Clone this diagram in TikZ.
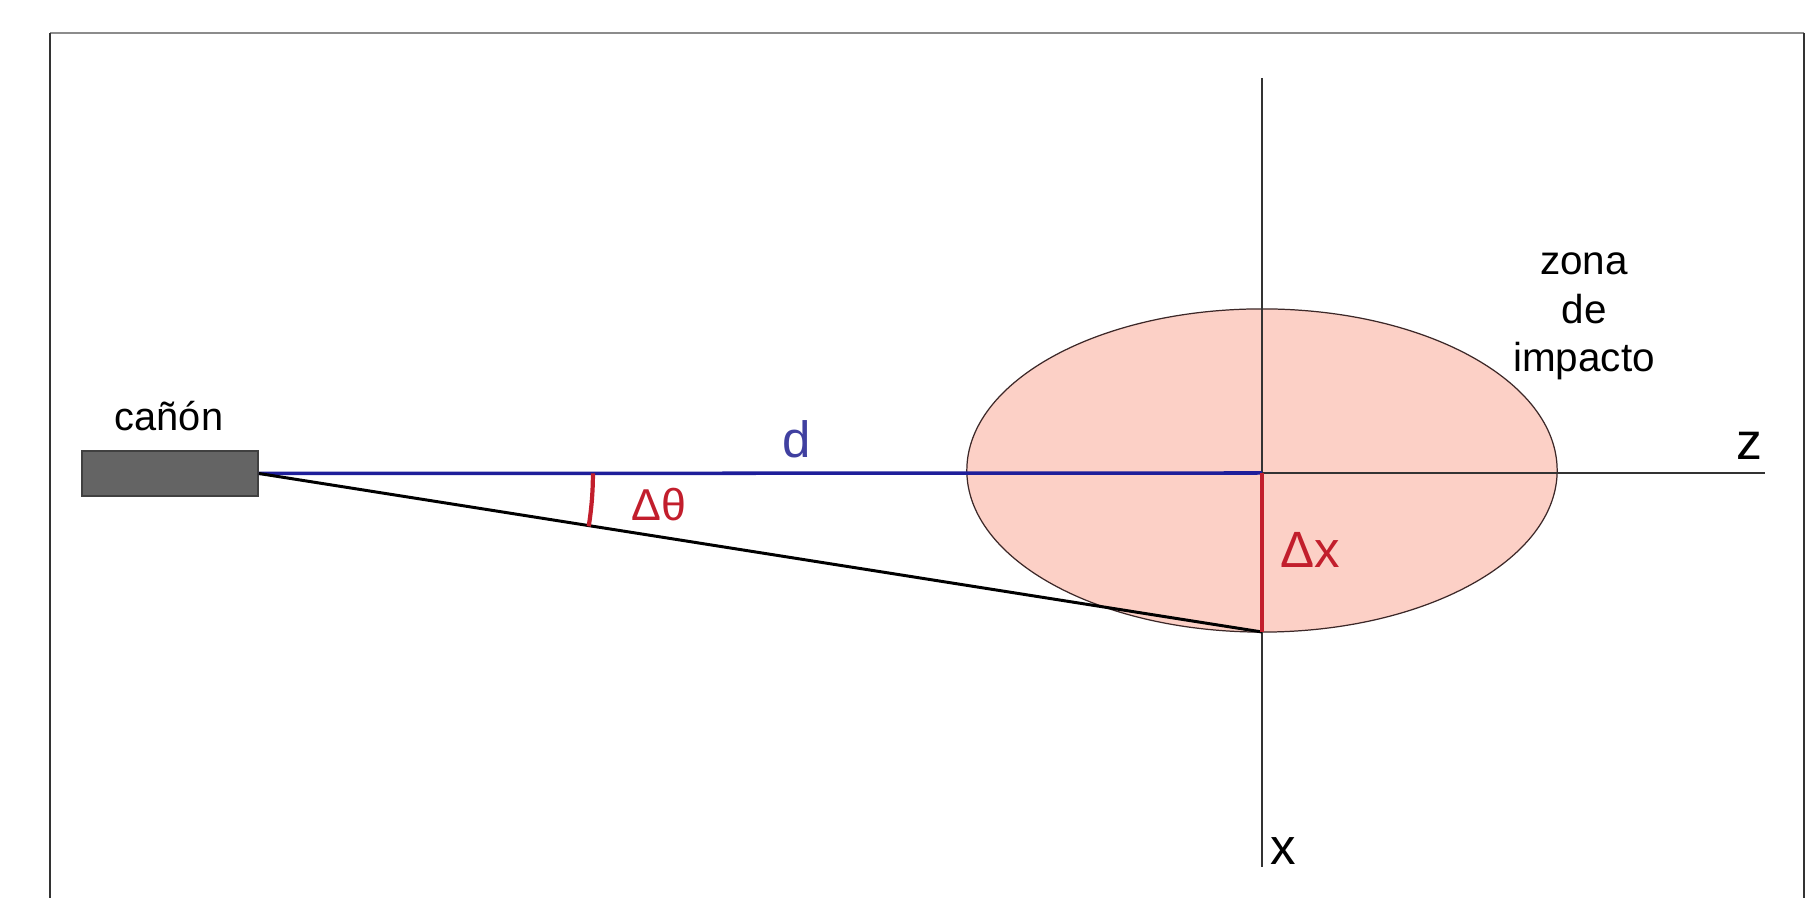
\documentclass[tikz,border=0pt]{standalone}
\usepackage{fontspec}
\setmainfont{Liberation Sans}
\usetikzlibrary{positioning,shapes.geometric,calc}
\definecolor{Dc}{HTML}{1E1E9A}
\definecolor{Dt}{HTML}{4040A0}
\definecolor{Rc}{HTML}{C21E2C}
\definecolor{Zf}{HTML}{FCD0C6}
\definecolor{Zd}{HTML}{3C2828}
\definecolor{Gc}{HTML}{646464}
\tikzset{
  framegray/.style={draw=black!45, line width=0.6pt},
  framedark/.style={draw=black!80, line width=0.6pt},
  axis/.style={draw=black!80, line width=0.5pt},
  barrel/.style={rectangle, fill=Gc, draw=black!75, line width=0.5pt, inner sep=0pt, minimum width=1.76cm, minimum height=0.45cm},
  zone/.style={ellipse, fill=Zf, draw=Zd, line width=0.35pt, inner sep=0pt, minimum width=5.9cm, minimum height=3.23cm},
  dline/.style={draw=Dc, line width=1pt},
  shot/.style={draw=black, line width=0.85pt},
  dxline/.style={draw=Rc, line width=1.1pt},
  arcline/.style={draw=Rc, line width=1.2pt},
  lbl/.style={inner sep=0pt, anchor=base},
}
\begin{document}
\begin{tikzpicture}[x=0.01cm, y=-0.01cm]
  \useasboundingbox (0,0) rectangle (1808,898);
  \draw[framegray] (50,33) -- (1804,33);
  \draw[framedark] (50,33) -- (50,898);
  \draw[framedark] (1804,33) -- (1804,898);
  % zona de impacto
  \node[zone] (zone) at (1262,470.5) {};
  \coordinate (origin) at (1262,473);
  \coordinate (hit) at (1262,632);
  \coordinate (ztip) at (1765,473);
  \coordinate (xtop) at (1262,78);
  \coordinate (xtip) at (1262,867);
  \draw[axis] (xtop) -- (xtip);
  \draw[axis] (origin) -- (ztip);
  % canon y trayectorias
  \node[barrel] (cannon) at (170,473.5) {};
  \draw[dline] (cannon.east) -- (origin);
  \draw[shot] (cannon.east) -- (hit);
  \draw[dxline] (origin) -- (hit);
  \draw[arcline] ($(cannon.east)+(334,0)$) arc[start angle=0, end angle=-9.1, radius=3.34cm];
  % textos
  \node[lbl, font=\fontsize{11.3}{13}\selectfont] (canlbl) at (169,431) {cañón};
  \node[lbl, text=Dt, font=\fontsize{14.5}{16}\selectfont] (dlbl) at (797,458) {d};
  \node[lbl, text=Rc, font=\fontsize{12.7}{14}\selectfont] (thlbl) at (659,521) {Δθ};
  \node[lbl, text=Rc, font=\fontsize{14.5}{16}\selectfont] (dxlbl) at (1310,568) {Δx};
  \node[lbl, font=\fontsize{14.7}{16}\selectfont] (zlbl) at (1749,460) {z};
  \node[lbl, font=\fontsize{14.5}{16}\selectfont] (xlbl) at (1283,865) {x};
  \node[lbl, align=center, font=\fontsize{11.5}{13.8}\selectfont] (zonelbl) at (1584,372) {zona\\de\\impacto};
\end{tikzpicture}
\end{document}
